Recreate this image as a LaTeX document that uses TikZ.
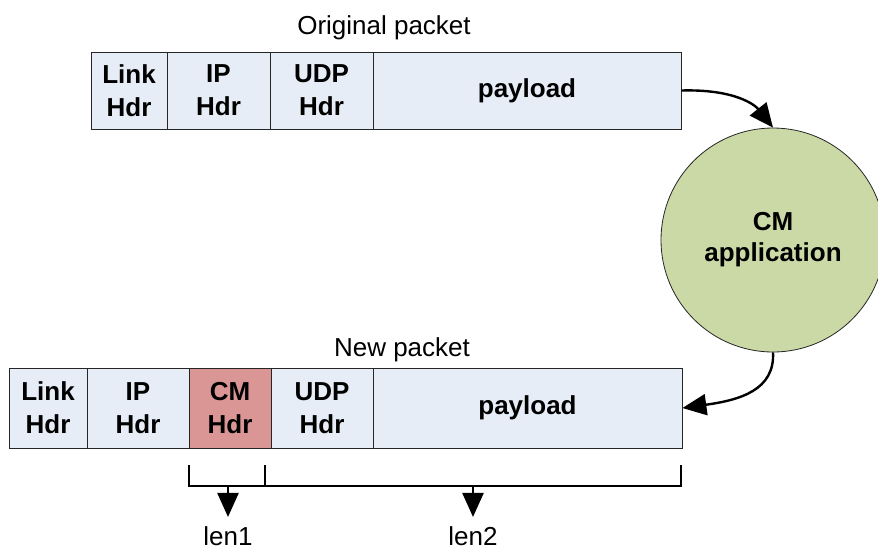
\documentclass[tikz,border=0pt]{standalone}
\usepackage{fontspec}
\setmainfont{Liberation Sans}
\usetikzlibrary{arrows.meta}
\definecolor{boxblue}{HTML}{E7EDF7}
\definecolor{cmred}{HTML}{D99694}
\definecolor{cmgreen}{HTML}{CAD9A6}
\begin{document}
\begin{tikzpicture}[x=1pt,y=-1pt,
  field/.style={draw=black!85, line width=0.8pt, fill=boxblue, inner sep=0pt, align=center,
    font=\fontsize{26}{33}\selectfont\bfseries},
  plain/.style={font=\fontsize{26}{30}\selectfont, inner sep=0pt, anchor=base},
  bigarrow/.style={line width=2.4pt, -{Triangle[length=24pt,width=21pt]}},
  brack/.style={line width=2.4pt}
]
\useasboundingbox (0,0) rectangle (878,550);
% original packet
\node[plain] (orig) at (384,34) {Original packet};
\node[field, minimum width=76, minimum height=77] (olink) at (129,90.5) {Link\\Hdr};
\node[field, minimum width=103, minimum height=77] (oip) at (218.5,90.5) {IP\\Hdr};
\node[field, minimum width=103, minimum height=77] (oudp) at (321.5,90.5) {UDP\\Hdr};
\node[field, minimum width=308, minimum height=77] (opay) at (527,90.5) {payload};
% CM application
\node[circle, draw=black!85, line width=0.8pt, fill=cmgreen, minimum size=224, inner sep=0pt,
  align=center, font=\fontsize{26}{31}\selectfont\bfseries] (cm) at (773,240) {CM\\application};
% new packet
\node[plain] (newp) at (402,356) {New packet};
\node[field, minimum width=78, minimum height=80] (nlink) at (48,408) {Link\\Hdr};
\node[field, minimum width=102, minimum height=80] (nip) at (138,408) {IP\\Hdr};
\node[field, fill=cmred, minimum width=82, minimum height=80] (ncm) at (230,408) {CM\\Hdr};
\node[field, minimum width=102, minimum height=80] (nudp) at (322,408) {UDP\\Hdr};
\node[field, minimum width=309, minimum height=80] (npay) at (527.5,408) {payload};
% curved arrows
\draw[bigarrow] (opay.east) .. controls (735,89) and (755,105) .. (cm.north);
\draw[bigarrow] (cm.south) .. controls (775,390) and (740,400) .. (npay.east);
% brackets
\coordinate (b1) at (189,465);
\coordinate (b2) at (265,465);
\coordinate (b3) at (681,465);
\coordinate (c1) at (189,486);
\coordinate (c2) at (265,486);
\coordinate (c3) at (681,486);
\draw[brack] (b1) -- (c1) -- (c3) -- (b3);
\draw[brack] (b2) -- (c2);
\coordinate (a1) at (228,486);
\coordinate (a2) at (473,486);
\node[plain] (len1) at (228,545) {len1};
\node[plain] (len2) at (473,545) {len2};
\draw[bigarrow] (a1) -- ([yshift=9pt]len1.north);
\draw[bigarrow] (a2) -- ([yshift=9pt]len2.north);
\end{tikzpicture}
\end{document}
